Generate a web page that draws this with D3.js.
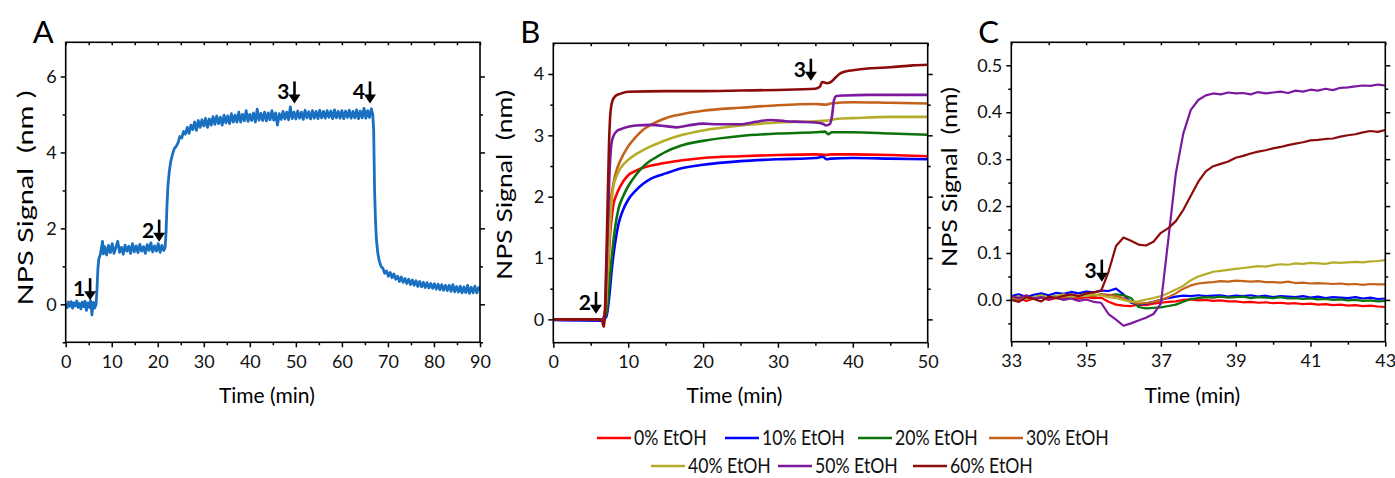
<!DOCTYPE html>
<html>
<head>
<meta charset="utf-8">
<script src="https://cdn.jsdelivr.net/npm/d3@7"></script>
<style>
  body { margin: 0; background: #fff; }
  text { font-family: Lato, "Open Sans", sans-serif; }
</style>
</head>
<body>
<svg id="chart" width="1395" height="478"></svg>
<script>
// ---- data ----
// panel A: single trace, time (min) / signal (nm)
const traceA = [
  [0,0.03],[0.3,-0.09],[0.6,0.06],[0.9,-0.05],[1.2,0.07],[1.5,-0.1],[1.8,0.04],[2.1,-0.04],[2.4,0.09],[2.7,-0.08],
  [3,0.02],[3.3,-0.12],[3.6,0.06],[3.9,-0.06],[4.2,0.08],[4.5,-0.16],[4.8,0.04],[5.1,-0.08],[5.4,0.1],[5.7,-0.28],
  [6,0.05],[6.3,-0.1],[6.6,0.0],[6.8,0.4],[7,0.95],[7.2,1.2],[7.5,1.3],[7.8,1.5],[8,1.66],[8.2,1.33],
  [8.5,1.52],[8.9,1.3],[9.3,1.55],[9.7,1.36],[10.1,1.6],[10.5,1.34],[10.9,1.5],[11.3,1.66],[11.7,1.37],[12.1,1.5],
  [12.5,1.32],[12.9,1.56],[13.3,1.4],[13.7,1.53],[14.1,1.34],[14.5,1.6],[14.9,1.38],[15.3,1.54],[15.7,1.36],[16.1,1.58],
  [16.5,1.4],[16.9,1.52],[17.3,1.34],[17.7,1.57],[18.1,1.42],[18.5,1.62],[18.9,1.38],[19.3,1.54],[19.7,1.4],[20.1,1.6],
  [20.5,1.37],[20.9,1.55],[21.3,1.42],[21.6,1.5],[21.8,1.9],[22,2.6],[22.2,3.1],[22.5,3.5],[22.8,3.75],[23.2,3.95],
  [23.6,4.1],[24,4.16],[24.4,4.25],[24.8,4.42],[25.2,4.38],[25.6,4.55],[26,4.48],[26.4,4.66],[26.8,4.5],[27.2,4.72],
  [27.6,4.6],[28,4.8],[28.4,4.58],[28.8,4.84],[29.2,4.66],[29.6,4.86],[30,4.7],[30.4,4.9],[30.8,4.66],[31.2,4.88],
  [31.6,4.72],[32,4.94],[32.4,4.74],[32.8,4.96],[33.2,4.76],[33.6,4.93],[34,4.72],[34.4,4.98],[34.8,4.78],[35.2,4.96],
  [35.6,4.76],[36,5.02],[36.4,4.8],[36.8,4.98],[37.2,4.8],[37.6,5.06],[38,4.8],[38.4,5.0],[38.8,4.83],[39.2,5.1],
  [39.6,4.82],[40,5.0],[40.4,4.84],[40.8,5.04],[41.2,4.8],[41.6,5.14],[42,4.85],[42.4,5.03],[42.8,4.84],[43.2,5.06],
  [43.6,4.83],[44,5.04],[44.4,4.86],[44.8,5.1],[45.2,4.85],[45.6,5.04],[46,4.72],[46.4,5.02],[46.8,4.87],[47.2,5.08],
  [47.6,4.88],[48,5.06],[48.4,4.86],[48.8,5.2],[49.2,4.89],[49.6,5.06],[50,4.88],[50.4,5.09],[50.8,4.9],[51.2,5.06],
  [51.6,4.87],[52,5.11],[52.4,4.91],[52.8,5.07],[53.2,4.88],[53.6,5.1],[54,4.9],[54.4,5.08],[54.8,4.89],[55.2,5.11],
  [55.6,4.91],[56,5.08],[56.4,4.9],[56.8,5.1],[57.2,4.92],[57.6,5.09],[58,4.89],[58.4,5.12],[58.8,4.91],[59.2,5.08],
  [59.6,4.9],[60,5.1],[60.4,4.89],[60.8,5.09],[61.2,4.92],[61.6,5.11],[62,4.9],[62.4,5.08],[62.8,4.91],[63.2,5.12],
  [63.6,4.89],[64,5.09],[64.4,4.91],[64.8,5.16],[65.2,4.9],[65.6,5.1],[66,4.92],[66.4,5.15],[66.7,5.0],[66.9,4.6],
  [67,3.8],[67.1,3.0],[67.3,2.2],[67.5,1.7],[67.8,1.35],[68.1,1.15],[68.5,1.0],[68.9,0.95],[69.3,0.82],[69.7,0.88],
  [70.1,0.74],[70.5,0.84],[70.9,0.7],[71.3,0.8],[71.7,0.66],[72.1,0.74],[72.5,0.6],[72.9,0.72],[73.3,0.58],[73.7,0.68],
  [74.1,0.55],[74.5,0.66],[74.9,0.52],[75.3,0.64],[75.7,0.5],[76.1,0.62],[76.5,0.47],[76.9,0.6],[77.3,0.46],[77.7,0.58],
  [78.1,0.44],[78.5,0.57],[78.9,0.43],[79.3,0.55],[79.7,0.42],[80.1,0.54],[80.5,0.4],[80.9,0.53],[81.3,0.38],[81.7,0.52],
  [82.1,0.37],[82.5,0.5],[82.9,0.36],[83.3,0.5],[83.7,0.34],[84.1,0.52],[84.5,0.33],[84.9,0.47],[85.3,0.32],[85.7,0.48],
  [86.1,0.3],[86.5,0.46],[86.9,0.31],[87.3,0.5],[87.7,0.29],[88.1,0.45],[88.5,0.3],[88.9,0.48],[89.3,0.3],[89.7,0.44],[90,0.36]
];

// panel B: one trace per EtOH level
const b0 = [[0,0],[6.5,0],[7,0.2],[7.3,0.8],[7.6,1.4],[8,1.85],[8.5,2.05],[9,2.18],[10,2.35],[11,2.42],[12,2.47],[14,2.53],[17,2.59],[20,2.63],[25,2.66],[30,2.68],[35,2.69],[36.5,2.68],[37,2.69],[40,2.69],[45,2.68],[50,2.66]];
const b10 = [[0,-0.01],[6.5,-0.02],[7.1,0.05],[7.5,0.4],[7.8,0.8],[8.2,1.2],[8.7,1.55],[9.3,1.78],[10,1.95],[11,2.1],[12,2.21],[13,2.29],[14,2.34],[15,2.38],[17,2.46],[20,2.52],[25,2.58],[30,2.61],[35,2.63],[36,2.65],[36.5,2.61],[37,2.62],[40,2.63],[45,2.62],[50,2.61]];
const b20 = [[0,0],[6.6,0],[7.1,0.1],[7.5,0.6],[7.8,1.0],[8.2,1.45],[8.7,1.8],[9.3,2.0],[10,2.17],[11,2.35],[12,2.49],[13,2.59],[14,2.66],[15,2.73],[17,2.83],[20,2.91],[25,2.99],[30,3.03],[35,3.05],[36.3,3.06],[36.7,3.02],[37.2,3.05],[40,3.05],[45,3.03],[50,3.01]];
const b30 = [[0,0],[6.6,0],[7,0.2],[7.3,1.0],[7.6,1.8],[8,2.2],[8.5,2.45],[9,2.6],[10,2.82],[11,2.97],[12,3.09],[13,3.17],[14,3.23],[15,3.28],[17,3.34],[20,3.4],[25,3.45],[30,3.49],[35,3.51],[36.5,3.5],[37,3.52],[40,3.54],[45,3.53],[50,3.52]];
const b40 = [[0,0],[6.6,0],[7,0.2],[7.3,0.9],[7.6,1.6],[8,2.15],[8.5,2.35],[9,2.47],[10,2.6],[11,2.69],[12,2.76],[13,2.82],[14,2.87],[15,2.92],[17,3.0],[20,3.08],[25,3.16],[30,3.21],[35,3.23],[36.5,3.24],[37,3.25],[38,3.27],[40,3.28],[45,3.3],[50,3.3]];
const b50 = [[0,0],[6.6,0],[6.9,0.1],[7.1,0.8],[7.3,1.6],[7.55,2.5],[7.75,2.85],[8,2.98],[8.5,3.07],[9,3.1],[10,3.14],[11,3.16],[13,3.17],[15,3.15],[16.5,3.13],[18,3.16],[20,3.19],[22,3.18],[25,3.18],[27,3.22],[29,3.25],[31,3.23],[33,3.22],[35,3.21],[36,3.19],[36.4,3.16],[36.9,3.18],[37.2,3.3],[37.5,3.58],[37.8,3.64],[39,3.65],[42,3.66],[46,3.66],[50,3.66]];
const b60 = [[0,0],[6,0],[6.5,-0.02],[6.75,-0.12],[6.95,0.3],[7.2,1.6],[7.45,2.9],[7.65,3.4],[7.9,3.56],[8.3,3.64],[9,3.68],[10,3.71],[15,3.72],[20,3.72],[25,3.73],[30,3.74],[35,3.76],[35.6,3.79],[35.9,3.87],[36.2,3.86],[36.6,3.85],[37.1,3.87],[37.6,3.93],[38.2,4.0],[39,4.04],[40,4.06],[42,4.09],[45,4.11],[48,4.14],[50,4.15]];

// panel C: zoom on the step at 35-43 min, shared time base
const timesC = [33.0,33.2,33.4,33.6,33.8,34.0,34.2,34.4,34.6,34.8,35.0,35.2,35.4,35.6,35.8,36.0,36.2,36.4,36.6,36.8,
  37.0,37.2,37.4,37.6,37.8,38.0,38.2,38.4,38.6,38.8,39.0,39.2,39.4,39.6,39.8,40.0,40.2,40.4,40.6,40.8,
  41.0,41.2,41.4,41.6,41.8,42.0,42.2,42.4,42.6,42.8,43.0];
const c0 = [0.0,0.004,-0.002,0.003,0.005,0.0,0.004,0.002,0.005,0.003,0.006,0.004,0.005,-0.004,-0.01,-0.012,-0.013,-0.01,-0.011,-0.008,
  -0.006,-0.004,-0.003,0.0,0.001,-0.001,0.0,-0.002,-0.001,-0.003,-0.003,-0.005,-0.004,-0.006,-0.005,-0.007,-0.006,-0.008,-0.007,-0.009,
  -0.008,-0.01,-0.009,-0.011,-0.01,-0.012,-0.011,-0.013,-0.012,-0.014,-0.015];
const c10 = [0.008,0.012,0.006,0.011,0.014,0.01,0.015,0.013,0.017,0.014,0.018,0.016,0.02,0.019,0.024,0.012,-0.006,-0.01,-0.008,-0.004,
  0.0,0.004,0.007,0.009,0.008,0.01,0.008,0.009,0.01,0.007,0.009,0.008,0.01,0.007,0.009,0.006,0.008,0.007,0.006,0.008,
  0.005,0.007,0.004,0.006,0.005,0.004,0.006,0.003,0.005,0.002,0.003];
const c20 = [0.004,0.008,0.003,0.006,0.01,0.005,0.008,0.006,0.01,0.007,0.011,0.009,0.012,0.01,0.012,0.01,0.004,-0.015,-0.018,-0.017,
  -0.016,-0.013,-0.01,-0.004,0.002,0.004,0.006,0.005,0.007,0.005,0.006,0.007,0.004,0.006,0.005,0.004,0.006,0.003,0.004,0.002,
  0.003,0.001,0.002,0.0,0.001,-0.001,0.0,-0.002,-0.001,-0.003,-0.002];
const c30 = [0.002,0.0,0.005,0.003,0.006,0.004,0.007,0.005,0.009,0.006,0.01,0.008,0.012,0.011,0.008,0.004,-0.004,-0.008,-0.007,-0.004,
  0.0,0.006,0.014,0.024,0.031,0.035,0.037,0.038,0.04,0.039,0.041,0.04,0.039,0.04,0.038,0.038,0.037,0.039,0.036,0.037,
  0.035,0.036,0.035,0.034,0.035,0.033,0.034,0.032,0.034,0.033,0.033];
const c40 = [0.004,0.008,0.002,0.006,0.01,0.005,0.008,0.012,0.006,0.01,0.008,0.012,0.01,0.006,0.004,0.0,-0.004,-0.003,0.001,0.004,
  0.008,0.015,0.022,0.03,0.042,0.05,0.055,0.06,0.062,0.064,0.066,0.068,0.07,0.072,0.071,0.074,0.076,0.075,0.078,0.077,
  0.079,0.078,0.077,0.08,0.079,0.08,0.081,0.08,0.082,0.083,0.085];
const c50 = [0.008,0.004,0.01,0.003,0.006,0.002,0.005,0.0,0.003,-0.002,0.001,-0.004,-0.006,-0.03,-0.042,-0.055,-0.05,-0.044,-0.038,-0.03,
  -0.008,0.13,0.27,0.355,0.405,0.426,0.436,0.44,0.438,0.442,0.44,0.441,0.438,0.443,0.44,0.442,0.444,0.441,0.446,0.444,
  0.448,0.446,0.45,0.447,0.452,0.453,0.455,0.457,0.456,0.459,0.457];
const c60 = [0.0,-0.004,0.006,0.002,-0.003,0.007,0.004,0.009,0.012,0.008,0.014,0.016,0.019,0.06,0.115,0.133,0.126,0.118,0.116,0.124,
  0.143,0.153,0.168,0.192,0.222,0.252,0.274,0.285,0.29,0.295,0.303,0.307,0.312,0.316,0.319,0.323,0.326,0.33,0.333,0.336,
  0.34,0.341,0.343,0.344,0.348,0.351,0.353,0.357,0.36,0.358,0.362];

const seriesNames = ["0% EtOH","10% EtOH","20% EtOH","30% EtOH","40% EtOH","50% EtOH","60% EtOH"];
const seriesColors = ["#ff0000","#0000ff","#0b730b","#c4621c","#b5ad28","#7b1a9e","#8c0c0c"];

// tick values
const ticksAX = [0,10,20,30,40,50,60,70,80,90], minorAX = [5,15,25,35,45,55,65,75,85];
const ticksAY = [0,2,4,6], minorAY = [-1,1,3,5];
const ticksBX = [0,10,20,30,40,50], minorBX = [5,15,25,35,45];
const ticksBY = [0,1,2,3,4], minorBY = [0.5,1.5,2.5,3.5];
const ticksCX = [33,35,37,39,41,43], minorCX = [34,36,38,40,42];
const ticksCY = [0,0.1,0.2,0.3,0.4,0.5], minorCY = [-0.05,0.05,0.15,0.25,0.35,0.45];

// arrow annotations (time, signal at arrow tip)
const marksA = [{label:"1",t:5.3,v:0.11},{label:"2",t:20.3,v:1.65},{label:"3",t:49.7,v:5.29},{label:"4",t:66.1,v:5.29}];
const marksB = [{label:"2",t:5.7,v:0.09},{label:"3",t:34.4,v:3.89}];
const marksC = [{label:"3",t:35.42,v:0.039}];

// ---- drawing ----
const svg = d3.select("#chart");
const bSeries = [b0,b10,b20,b30,b40,b50,b60];
const cSeries = [c0,c10,c20,c30,c40,c50,c60].map(vals => vals.map((v,i) => [timesC[i], v]));

const panels = [
  {name:"A", l:65.7, r:480, t:42.3, b:342.3, xDomain:[0,90], yDomain:[-1,6.9],
   xTicks:ticksAX, xMinor:minorAX, yTicks:ticksAY, yMinor:minorAY, yFmt:d3.format("d"),
   series:[{values:traceA, color:"#1a70c0"}], lineWidth:2.8, curve:d3.curveLinear, marks:marksA,
   yTitle:"NPS Signal  (nm )", yTitleX:33, yTitleY:198, yTitleLen:215},
  {name:"B", l:553.3, r:927.7, t:43.3, b:342.7, xDomain:[0,50], yDomain:[-0.38,4.5],
   xTicks:ticksBX, xMinor:minorBX, yTicks:ticksBY, yMinor:minorBY, yFmt:d3.format("d"),
   series:bSeries.map((v,i) => ({values:v, color:seriesColors[i]})), lineWidth:2.6, curve:d3.curveMonotoneX, marks:marksB,
   yTitle:"NPS Signal  (nm)", yTitleX:512, yTitleY:185, yTitleLen:190},
  {name:"C", l:1011.3, r:1385.3, t:42.3, b:341.7, xDomain:[33,43], yDomain:[-0.089,0.549],
   xTicks:ticksCX, xMinor:minorCX, yTicks:ticksCY, yMinor:minorCY, yFmt:d3.format(".1f"),
   series:cSeries.map((v,i) => ({values:v, color:seriesColors[i]})), lineWidth:2.2, curve:d3.curveLinear, marks:marksC,
   yTitle:"NPS Signal  (nm)", yTitleX:957, yTitleY:177, yTitleLen:180}
];

function drawPanel(p){
  const x = d3.scaleLinear().domain(p.xDomain).range([p.l, p.r]);
  const y = d3.scaleLinear().domain(p.yDomain).range([p.b, p.t]);
  const g = svg.append("g").classed("panel", true);

  g.append("clipPath").attr("id", "clip" + p.name)
    .append("rect").attr("x", p.l).attr("y", p.t).attr("width", p.r - p.l).attr("height", p.b - p.t);

  const lines = g.append("g").attr("clip-path", "url(#clip" + p.name + ")");
  const line = d3.line().x(d => x(d[0])).y(d => y(d[1])).curve(p.curve);
  p.series.forEach(s => {
    lines.append("path").datum(s.values)
      .attr("fill", "none")
      .attr("stroke", s.color)
      .attr("stroke-width", p.lineWidth)
      .attr("stroke-linejoin", "round")
      .attr("d", line);
  });

  function axis(gen, tx, ty){
    const a = g.append("g").attr("transform", "translate(" + tx + "," + ty + ")").call(gen);
    a.select(".domain").remove();
    a.selectAll("line").attr("stroke-width", 1.5);
    a.attr("font-size", 18).attr("font-family", "Lato, 'Open Sans', sans-serif");
    a.selectAll("text").attr("fill", "#111");
    return a;
  }
  axis(d3.axisBottom(x).tickValues(p.xTicks).tickFormat(d3.format("d")).tickSize(5).tickPadding(8), 0, p.b);
  axis(d3.axisBottom(x).tickValues(p.xMinor).tickFormat("").tickSize(3), 0, p.b);
  axis(d3.axisLeft(y).tickValues(p.yTicks).tickFormat(p.yFmt).tickSize(5).tickPadding(4), p.l, 0);
  axis(d3.axisLeft(y).tickValues(p.yMinor).tickFormat("").tickSize(3), p.l, 0);
  axis(d3.axisTop(x).tickValues(p.xTicks.concat(p.xMinor)).tickFormat("").tickSize(-3), 0, p.t);
  axis(d3.axisRight(y).tickValues(p.yTicks).tickFormat("").tickSize(5), p.r, 0);
  axis(d3.axisRight(y).tickValues(p.yMinor).tickFormat("").tickSize(3), p.r, 0);

  g.append("rect")
    .attr("x", p.l).attr("y", p.t).attr("width", p.r - p.l).attr("height", p.b - p.t)
    .attr("fill", "none").attr("stroke", "#000").attr("stroke-width", 1.6);

  // arrows
  p.marks.forEach(m => {
    const ax = x(m.t), ay = y(m.v);
    g.append("line").attr("x1", ax).attr("x2", ax).attr("y1", ay - 22).attr("y2", ay - 7)
      .attr("stroke", "#000").attr("stroke-width", 2.6);
    g.append("path").attr("d", "M" + (ax - 6) + "," + (ay - 9) + "L" + (ax + 6) + "," + (ay - 9) + "L" + ax + "," + ay + "Z")
      .attr("fill", "#000");
    g.append("text").attr("x", ax - 5).attr("y", ay - 4).attr("text-anchor", "end")
      .attr("font-weight", "bold").attr("font-size", 21).text(m.label);
  });

  // titles
  g.append("text").attr("x", (p.l + p.r) / 2 - 6).attr("y", 403).attr("text-anchor", "middle")
    .attr("font-size", 21).text("Time (min)");
  const yt = g.append("text").attr("transform", "translate(" + p.yTitleX + "," + p.yTitleY + ") rotate(-90)")
    .attr("text-anchor", "middle").attr("font-size", 22)
    .style("white-space", "pre").text(p.yTitle);
  yt.attr("textLength", p.yTitleLen).attr("lengthAdjust", "spacingAndGlyphs");
  g.append("text").attr("x", p.l - 33).attr("y", 43).attr("font-size", 31).text(p.name);
}

panels.forEach(drawPanel);

// legend
const legendRows = [[0,1,2,3],[4,5,6]];
const legendX = [[597,725,858,989],[651,778,913]];
const legendY = [438, 466];
const legend = svg.append("g").classed("legend", true);
legendRows.forEach((row, r) => {
  row.forEach((k, j) => {
    const lx = legendX[r][j], ly = legendY[r];
    legend.append("line").attr("x1", lx).attr("x2", lx + 34).attr("y1", ly).attr("y2", ly)
      .attr("stroke", seriesColors[k]).attr("stroke-width", 2.5);
    const t = legend.append("text").attr("x", lx + 37).attr("y", ly + 7)
      .attr("font-size", 21).attr("fill", "#111").text(seriesNames[k]);
    const w = t.node().getComputedTextLength();
    t.attr("textLength", w * 0.84).attr("lengthAdjust", "spacingAndGlyphs");
  });
});
</script>
</body>
</html>
